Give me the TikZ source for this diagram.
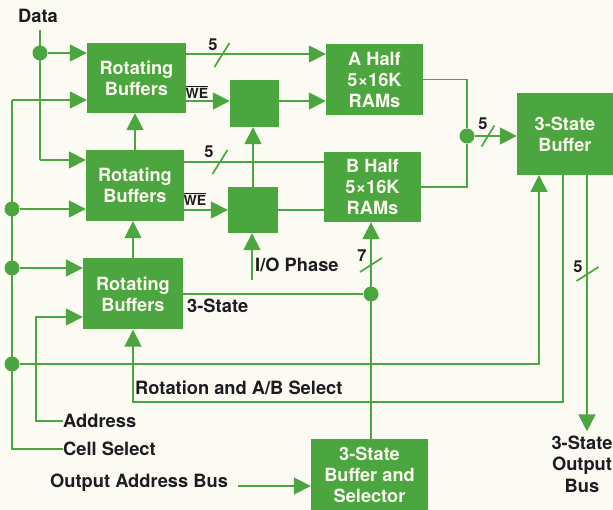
\documentclass[tikz,border=0pt]{standalone}
\usepackage{fontspec}
\setmainfont{TeX Gyre Heros}
\usetikzlibrary{arrows.meta}
\definecolor{hpgreen}{RGB}{76,166,64}
\definecolor{paper}{RGB}{252,251,243}
\definecolor{ink}{RGB}{30,28,32}
\definecolor{boxtext}{RGB}{250,250,238}
\newcommand{\notbar}[1]{$\overline{\mbox{#1}}$}
\tikzset{
  blk/.style={fill=hpgreen,text=boxtext,inner sep=0pt,align=center,
    font=\fontsize{18.2}{21}\selectfont\bfseries},
  wire/.style={draw=hpgreen,line width=1.7pt},
  feed/.style={wire,-{Triangle[length=17pt,width=17pt]}},
  joint/.style={circle,fill=hpgreen,inner sep=0pt,minimum size=15pt},
  lbl/.style={text=ink,inner sep=0pt,font=\fontsize{18.3}{21.5}\selectfont\bfseries},
  buswidth/.style={text=ink,inner sep=0pt,font=\fontsize{16.5}{18}\selectfont\bfseries},
  welbl/.style={text=ink,inner sep=0pt,font=\fontsize{14}{15}\selectfont\bfseries},
}
\begin{document}
\begin{tikzpicture}[x=1pt,y=-1pt]
\fill[paper] (0,0) rectangle (613,510);
\useasboundingbox (0,0) rectangle (613,510);
% blocks
\node[blk,minimum width=99pt,minimum height=70pt] (rbA) at (136.5,78) {Rotating\\Buffers};
\node[blk,minimum width=98pt,minimum height=71pt] (rbB) at (135,185.5) {Rotating\\Buffers};
\node[blk,minimum width=100pt,minimum height=71pt] (rbC) at (133,294) {Rotating\\Buffers};
\node[blk,minimum width=49pt,minimum height=47pt] (sbA) at (254.5,103.5) {};
\node[blk,minimum width=50pt,minimum height=46pt] (sbB) at (253,210) {};
\node[blk,minimum width=97pt,minimum height=71pt] (ahalf) at (374.5,79.5) {A Half\\5×16K\\RAMs};
\node[blk,minimum width=97pt,minimum height=70pt] (bhalf) at (372.5,187) {B Half\\5×16K\\RAMs};
\node[blk,minimum width=96pt,minimum height=82pt] (buf) at (565,134) {3-State\\Buffer};
\node[blk,minimum width=117pt,minimum height=72pt] (sel) at (369.5,475) {3-State\\Buffer and\\Selector};
% labels
\node[lbl] (data) at (38,16) {Data};
\node[lbl,anchor=west] (addr) at (63,421) {Address};
\node[lbl,anchor=west] (cellsel) at (63,449) {Cell Select};
\node[lbl,anchor=west] (oabus) at (50,483) {Output Address Bus};
\node[lbl,anchor=west] (iophase) at (255,265) {I/O Phase};
\node[lbl,anchor=west] (tristate) at (187,306) {3-State};
\node[lbl,anchor=west] (rotsel) at (135,388) {Rotation and A/B Select};
\node[lbl,align=center] (outbus) at (582,464) {3-State\\Output\\Bus};
\node[welbl] (weA) at (197,92) {\notbar{WE}};
\node[welbl] (weB) at (195,199) {\notbar{WE}};
\node[buswidth] (wA) at (213,45) {5};
\node[buswidth] (wB) at (209,152) {5};
\node[buswidth] (wC) at (483,124) {5};
\node[buswidth] (wD) at (362,256) {7};
\node[buswidth] (wE) at (578,267) {5};
% junctions
\coordinate (dtop) at (40,30);
\node[joint] (d1) at (40,53) {};
\coordinate (dbot) at (40,160);
\coordinate (ctop) at (12,100);
\node[joint] (c1) at (12,209) {};
\node[joint] (c2) at (12,268) {};
\node[joint] (c3) at (12,364) {};
\coordinate (cbot) at (12,449);
\coordinate (aup) at (36,317);
\node[joint] (j3) at (371,294) {};
\node[joint] (abj) at (467,136) {};
\coordinate (bufin) at (539,175);
\coordinate (bufrot) at (563,175);
\coordinate (bufout) at (587,175);
\coordinate (rotline) at (0,402);
\coordinate (iobot) at (252,280);
\coordinate (oab) at (238,486);
% data and select inputs
\draw[wire] (dtop) -- (dbot);
\draw[feed] (d1) -- (d1 -| rbA.west);
\draw[feed] (dbot) -- (dbot -| rbB.west);
\draw[wire] (ctop) -- (cbot) -- (cellsel.west);
\draw[feed] (ctop) -- (ctop -| rbA.west);
\draw[feed] (c1) -- (c1 -| rbB.west);
\draw[feed] (c2) -- (c2 -| rbC.west);
\draw[feed] (c3) -| (bufin);
\draw[feed] (addr.west) -| (aup) -- (aup -| rbC.west);
% buffer chain
\draw[feed] (rbB.north) -- (rbB.north |- rbA.south);
\draw[feed] (rbC.north) -- (rbC.north |- rbB.south);
\draw[feed] (rbA.east |- 0,54) -- (ahalf.west |- 0,54);
\draw[feed] (rbA.east |- 0,101) -- (sbA.west |- 0,101);
\draw[feed] (sbA.east |- 0,101) -- (ahalf.west |- 0,101);
\draw[wire] (rbB.east |- 0,162) -- (bhalf.west |- 0,162);
\draw[feed] (rbB.east |- 0,210) -- (sbB.west |- 0,210);
\draw[wire] (sbB.east |- 0,210) -- (bhalf.west |- 0,210);
\draw[feed] (sbB.north) -- (sbB.north |- sbA.south);
\draw[feed] (iobot) -- (iobot |- sbB.south);
% RAM halves to output
\draw[wire] (ahalf.east) -| (abj) |- (bhalf.east);
\draw[feed] (abj) -- (abj -| buf.west);
\draw[wire] (rbC.east |- j3) -- (j3);
\draw[feed] (sel.north -| j3) -- (j3 |- bhalf.south);
\draw[feed] (bufrot) |- (rotline -| rbC.south) -- (rbC.south);
\draw[feed] (bufout) -- ([yshift=4pt]outbus.north -| bufout);
\draw[feed] (oab) -- (oab -| sel.west);
% bus width ticks
\foreach \x/\y in {222/55,220/162} \draw[wire] (\x,\y) ++(-7.5,12) -- ++(15,-24);
\draw[wire] (488,136) ++(-6.5,10.5) -- ++(13,-21);
\foreach \x/\y in {371/265,587.5/274} \draw[wire] (\x,\y) ++(-11,7) -- ++(22,-14);
\end{tikzpicture}
\end{document}
